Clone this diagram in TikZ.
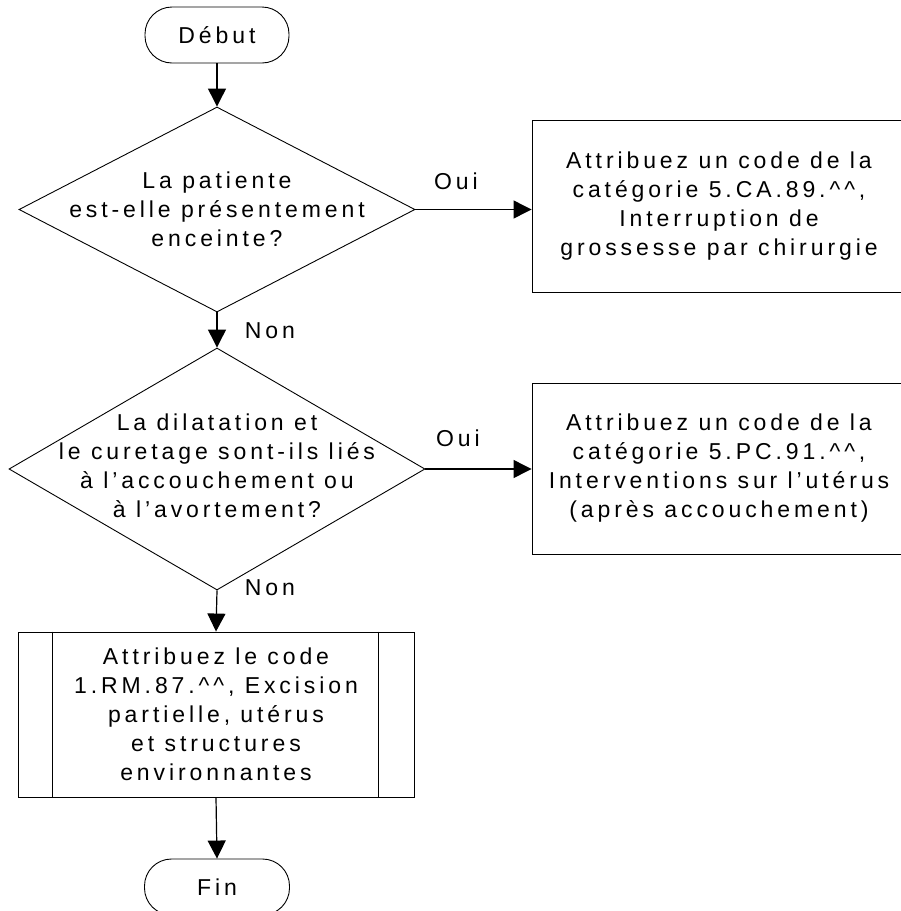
\documentclass[tikz,border=0pt]{standalone}
\usepackage{fontspec}
\setmainfont{Liberation Sans}[LetterSpace=17]
\usetikzlibrary{shapes.geometric,arrows.meta}
\begin{document}
\begin{tikzpicture}[
  x=1pt, y=-1pt,
  every node/.style={font=\fontsize{23}{29}\selectfont, align=center, inner sep=0pt},
  terminal/.style={draw, line width=0.9pt, rectangle, rounded corners=27pt,
    minimum width=144pt, minimum height=56pt},
  decision/.style={draw, line width=0.9pt, diamond},
  action/.style={draw, line width=0.9pt, rectangle, minimum width=374pt},
  subproc/.style={draw, line width=0.9pt, rectangle, minimum width=396pt, minimum height=165pt},
  flow/.style={line width=1.2pt, -{Triangle[length=18pt,width=18pt]}},
  answer/.style={}
]
\useasboundingbox (0,0) rectangle (901,911);
\clip (0,0) rectangle (901,911);

% start terminal
\node[terminal] (start) at (217,35) {Début};

% first question
\node[decision, minimum width=396pt, minimum height=205pt] (d1) at (217,209.5) {};
\node (d1t) at (217,209) {La patiente\\est-elle présentement\\enceinte?};

% first action
\node[action, minimum height=172pt] (b1) at (719,206)
  {Attribuez un code de la\\catégorie 5.CA.89.\^{}\^{},\\Interruption de\\grossesse par chirurgie};

% second question
\node[decision, minimum width=416pt, minimum height=242pt] (d2) at (217,469) {};
\node (d2t) at (217,466) {La dilatation et\\le curetage sont-ils liés\\à l’accouchement ou\\à l’avortement?};

% second action
\node[action, minimum height=171pt] (b2) at (719,468.5)
  {Attribuez un code de la\\catégorie 5.PC.91.\^{}\^{},\\Interventions sur l’utérus\\(après accouchement)};

% predefined process
\node[subproc] (p) at (216,714.5)
  {Attribuez le code\\1.RM.87.\^{}\^{}, Excision\\partielle, utérus\\et structures\\environnantes};
\draw[line width=0.9pt] ([xshift=35pt]p.north west) -- ([xshift=35pt]p.south west);
\draw[line width=0.9pt] ([xshift=-36pt]p.north east) -- ([xshift=-36pt]p.south east);

% end terminal
\node[terminal, minimum width=145pt] (end) at (217,887) {Fin};

% connectors
\draw[flow] (start.south) -- (d1.north);
\draw[flow] (d1.east) -- (d1.east -| b1.west);
\draw[flow] (d1.south) -- (d2.north);
\draw[flow] (d2.east) -- (d2.east -| b2.west);
\draw[flow] (d2.south) -- (p.north);
\draw[flow] (p.south) -- (end.north);

% answer labels
\node[answer] (oui1) at (456,181) {Oui};
\node[answer] (non1) at (270,331) {Non};
\node[answer] (oui2) at (458,438) {Oui};
\node[answer] (non2) at (270,588) {Non};
\end{tikzpicture}
\end{document}
